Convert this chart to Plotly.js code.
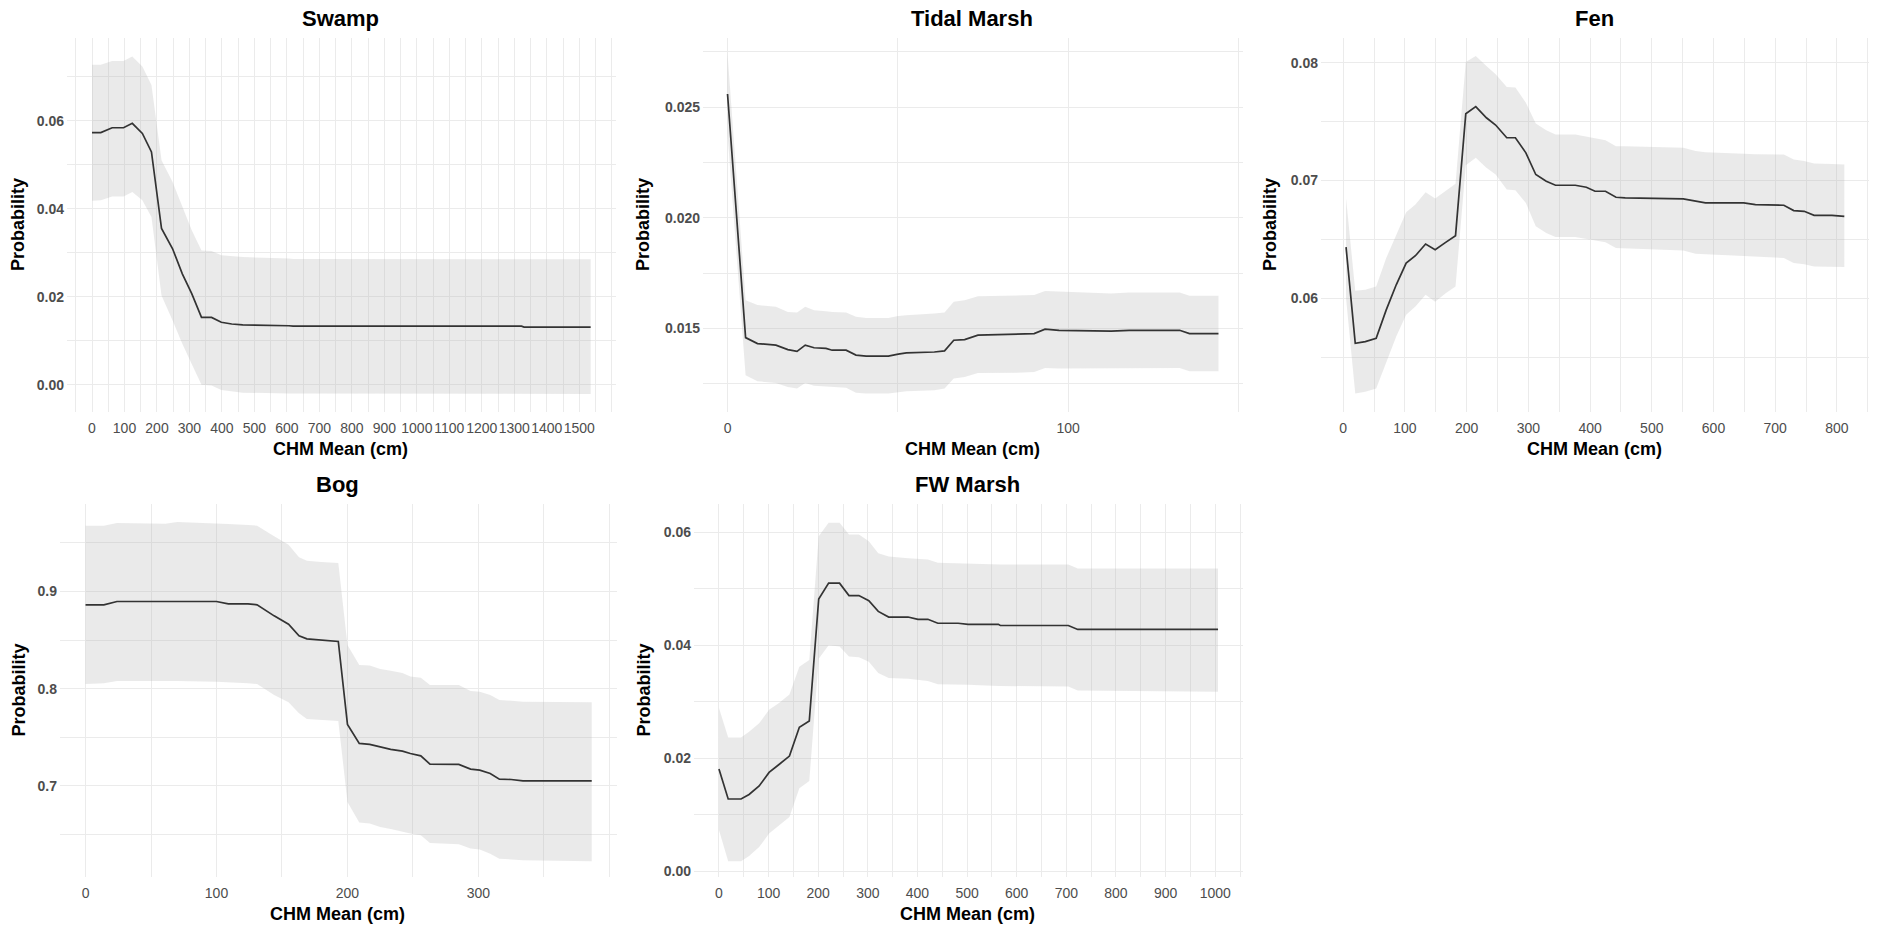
<!DOCTYPE html>
<html>
<head>
<meta charset="utf-8">
<script src="https://cdn.plot.ly/plotly-3.0.1.min.js"></script>
<style>html,body{margin:0;padding:0;background:#fff;}#chart{width:1880px;height:933px;}</style>
</head>
<body>
<div id="chart"></div>
<script>
// ---------------- DATA ----------------
const panelTitles = ["Swamp", "Tidal Marsh", "Fen", "Bog", "FW Marsh"];
const xTitle = "CHM Mean (cm)";
const yTitle = "Probability";

// Swamp
const swampX  = [0, 27, 62, 97, 124, 155, 183, 214, 248, 278, 307, 337, 368, 398, 430, 464, 606, 619, 1322, 1330, 1535];
const swampY  = [0.0573, 0.0573, 0.0584, 0.0584, 0.0594, 0.0571, 0.0529, 0.0355, 0.0309, 0.0252, 0.0207, 0.0153, 0.0153, 0.0142, 0.0138, 0.0136, 0.0134, 0.0133, 0.0133, 0.0131, 0.0131];
const swampHi = [0.0727, 0.0727, 0.0736, 0.0736, 0.0746, 0.0723, 0.0681, 0.0510, 0.0461, 0.0404, 0.0351, 0.0305, 0.0304, 0.0294, 0.0292, 0.0290, 0.0287, 0.0286, 0.0285, 0.0285, 0.0285];
const swampLo = [0.0418, 0.0419, 0.0428, 0.0428, 0.0438, 0.0419, 0.0381, 0.0203, 0.0146, 0.0093, 0.0047, 0.0000, -0.0002, -0.0012, -0.0015, -0.0018, -0.0020, -0.0021, -0.0021, -0.0021, -0.0021];

// Tidal Marsh
const tidalX  = [0, 5.3, 8.8, 14.2, 17.7, 20.4, 22.8, 25.4, 28.9, 30.7, 34.8, 37.7, 40.7, 47.2, 50.1, 52.5, 60.7, 63.7, 66.4, 69.6, 73.5, 86.7, 90.0, 93.2, 97.3, 112.6, 117.9, 132.7, 135.6, 144.1];
const tidalY  = [0.02559, 0.01459, 0.01432, 0.01425, 0.01405, 0.01397, 0.01425, 0.01413, 0.01410, 0.01402, 0.01402, 0.01380, 0.01375, 0.01375, 0.01384, 0.01390, 0.01394, 0.01399, 0.01447, 0.01450, 0.01470, 0.01473, 0.01477, 0.01497, 0.01492, 0.01488, 0.01492, 0.01492, 0.01477, 0.01477];
const tidalHi = [0.02740, 0.01628, 0.01606, 0.01598, 0.01575, 0.01572, 0.01598, 0.01583, 0.01578, 0.01575, 0.01572, 0.01553, 0.01548, 0.01548, 0.01556, 0.01560, 0.01568, 0.01572, 0.01621, 0.01628, 0.01646, 0.01648, 0.01651, 0.01669, 0.01666, 0.01658, 0.01663, 0.01663, 0.01648, 0.01648];
const tidalLo = [0.02380, 0.01289, 0.01262, 0.01254, 0.01236, 0.01229, 0.01254, 0.01241, 0.01238, 0.01236, 0.01232, 0.01210, 0.01206, 0.01206, 0.01213, 0.01217, 0.01221, 0.01229, 0.01274, 0.01281, 0.01299, 0.01301, 0.01304, 0.01322, 0.01320, 0.01319, 0.01321, 0.01322, 0.01307, 0.01307];

// Fen
const fenX  = [4.6, 19.5, 35.8, 53.4, 69.7, 85.9, 102, 117, 133.5, 149, 166, 182, 198.6, 214.8, 232, 247, 265, 279, 296, 312, 329, 344, 376, 394, 408, 425, 442, 457, 551, 571, 587, 649, 668, 714, 730, 747, 763, 792, 812];
const fenY  = [0.06435, 0.05618, 0.05633, 0.05661, 0.05902, 0.06115, 0.06299, 0.06362, 0.06461, 0.06413, 0.06475, 0.06532, 0.07567, 0.07627, 0.07533, 0.07471, 0.07363, 0.07363, 0.07235, 0.07051, 0.06994, 0.06960, 0.06960, 0.06943, 0.06909, 0.06909, 0.06858, 0.06852, 0.06844, 0.06824, 0.06810, 0.06810, 0.06796, 0.06790, 0.06745, 0.06739, 0.06705, 0.06705, 0.06696];
const fenHi = [0.06850, 0.06064, 0.06072, 0.06101, 0.06342, 0.06540, 0.06730, 0.06796, 0.06901, 0.06847, 0.06909, 0.06972, 0.08006, 0.08057, 0.07972, 0.07902, 0.07794, 0.07789, 0.07661, 0.07485, 0.07426, 0.07391, 0.07391, 0.07377, 0.07360, 0.07343, 0.07292, 0.07290, 0.07278, 0.07250, 0.07240, 0.07228, 0.07224, 0.07221, 0.07179, 0.07165, 0.07145, 0.07140, 0.07136];
const fenLo = [0.06000, 0.05193, 0.05207, 0.05235, 0.05462, 0.05675, 0.05860, 0.05930, 0.06030, 0.05972, 0.06044, 0.06101, 0.07130, 0.07193, 0.07108, 0.07051, 0.06923, 0.06918, 0.06810, 0.06611, 0.06555, 0.06521, 0.06521, 0.06504, 0.06490, 0.06475, 0.06427, 0.06420, 0.06407, 0.06379, 0.06370, 0.06358, 0.06354, 0.06342, 0.06299, 0.06290, 0.06271, 0.06268, 0.06265];

// Bog
const bogX  = [0, 14, 24, 38, 61, 70, 100, 109, 124, 131, 144, 155, 163, 169, 180, 193, 200, 209, 217, 225, 233, 242, 248, 256, 263, 285, 294, 301, 309, 316, 325, 334, 386.5];
const bogY  = [0.8863, 0.8863, 0.8897, 0.8897, 0.8890, 0.8897, 0.8897, 0.8873, 0.8873, 0.8863, 0.8749, 0.8663, 0.8543, 0.8512, 0.8502, 0.8485, 0.7632, 0.7436, 0.7426, 0.7402, 0.7375, 0.7357, 0.7333, 0.7309, 0.7223, 0.7220, 0.7172, 0.7161, 0.7127, 0.7069, 0.7065, 0.7052, 0.7052];
const bogHi = [0.9677, 0.9677, 0.9704, 0.9704, 0.9698, 0.9715, 0.9704, 0.9695, 0.9685, 0.9677, 0.9567, 0.9481, 0.9351, 0.9316, 0.9302, 0.9292, 0.8450, 0.8244, 0.8237, 0.8203, 0.8185, 0.8160, 0.8124, 0.8113, 0.8038, 0.8038, 0.7976, 0.7969, 0.7935, 0.7883, 0.7875, 0.7866, 0.7859];
const bogLo = [0.8048, 0.8055, 0.8079, 0.8079, 0.8079, 0.8079, 0.8072, 0.8065, 0.8055, 0.8048, 0.7935, 0.7859, 0.7746, 0.7687, 0.7677, 0.7667, 0.6835, 0.6622, 0.6612, 0.6577, 0.6555, 0.6530, 0.6509, 0.6491, 0.6412, 0.6399, 0.6354, 0.6344, 0.6302, 0.6251, 0.6243, 0.6234, 0.6223];

// FW Marsh
const fwX  = [0, 18.6, 44.5, 60.7, 81, 101, 121, 142, 162, 182, 201, 221, 243, 262, 282, 302, 321, 342, 381, 401, 421, 441, 482, 502, 563, 567, 704, 723, 1005.7];
const fwY  = [0.0181, 0.0128, 0.0128, 0.0136, 0.0151, 0.0175, 0.0189, 0.0204, 0.0255, 0.0266, 0.0482, 0.0510, 0.0510, 0.0488, 0.0488, 0.0479, 0.0460, 0.0450, 0.0450, 0.0446, 0.0446, 0.0439, 0.0439, 0.0437, 0.0437, 0.0435, 0.0435, 0.0428, 0.0428];
const fwHi = [0.0289, 0.0237, 0.0237, 0.0247, 0.0262, 0.0286, 0.0298, 0.0313, 0.0362, 0.0374, 0.0593, 0.0617, 0.0617, 0.0596, 0.0596, 0.0584, 0.0563, 0.0557, 0.0554, 0.0553, 0.0552, 0.0546, 0.0545, 0.0545, 0.0543, 0.0543, 0.0543, 0.0536, 0.0536];
const fwLo = [0.0073, 0.0018, 0.0018, 0.0027, 0.0043, 0.0067, 0.0082, 0.0096, 0.0147, 0.0160, 0.0376, 0.0400, 0.0398, 0.0380, 0.0379, 0.0371, 0.0351, 0.0342, 0.0341, 0.0339, 0.0337, 0.0331, 0.0330, 0.0330, 0.0328, 0.0328, 0.0327, 0.0320, 0.0318];

// Tick values (labelled majors) and minor grid positions
const swampXTicks = [0, 100, 200, 300, 400, 500, 600, 700, 800, 900, 1000, 1100, 1200, 1300, 1400, 1500];
const swampXMinor = [-50, 50, 150, 250, 350, 450, 550, 650, 750, 850, 950, 1050, 1150, 1250, 1350, 1450, 1550, 1600];
const swampYTicks = [0, 0.02, 0.04, 0.06];
const swampYMinor = [0.01, 0.03, 0.05, 0.07];
const tidalXTicks = [0, 100];
const tidalXMinor = [50, 150];
const tidalYTicks = [0.015, 0.020, 0.025];
const tidalYMinor = [0.0125, 0.0175, 0.0225, 0.0275];
const fenXTicks = [0, 100, 200, 300, 400, 500, 600, 700, 800];
const fenXMinor = [50, 150, 250, 350, 450, 550, 650, 750, 850];
const fenYTicks = [0.06, 0.07, 0.08];
const fenYMinor = [0.055, 0.065, 0.075];
const bogXTicks = [0, 100, 200, 300];
const bogXMinor = [50, 150, 250, 350, 400];
const bogYTicks = [0.7, 0.8, 0.9];
const bogYMinor = [0.65, 0.75, 0.85, 0.95];
const fwXTicks = [0, 100, 200, 300, 400, 500, 600, 700, 800, 900, 1000];
const fwXMinor = [-50, 50, 150, 250, 350, 450, 550, 650, 750, 850, 950, 1050];
const fwYTicks = [0, 0.02, 0.04, 0.06];
const fwYMinor = [0.01, 0.03, 0.05];

// ---------------- PANEL SETUP ----------------
const W = 1880, H = 933;
const panels = [
  {title: panelTitles[0], x: swampX, y: swampY, hi: swampHi, lo: swampLo,
   px: [67, 616], py: [38, 412], xr: [-77, 1613], yr: [-0.0062, 0.0788],
   xt: swampXTicks, xm: swampXMinor, yt: swampYTicks, ym: swampYMinor, yfmt: ".2f", ylx: 18},
  {title: panelTitles[1], x: tidalX, y: tidalY, hi: tidalHi, lo: tidalLo,
   px: [703, 1243], py: [38, 412], xr: [-7.2, 151.3], yr: [0.01123, 0.02812],
   xt: tidalXTicks, xm: tidalXMinor, yt: tidalYTicks, ym: tidalYMinor, yfmt: ".3f", ylx: 643},
  {title: panelTitles[2], x: fenX, y: fenY, hi: fenHi, lo: fenLo,
   px: [1321, 1869], py: [38, 412], xr: [-36, 852], yr: [0.05035, 0.0821],
   xt: fenXTicks, xm: fenXMinor, yt: fenYTicks, ym: fenYMinor, yfmt: ".2f", ylx: 1270},
  {title: panelTitles[3], x: bogX, y: bogY, hi: bogHi, lo: bogLo,
   px: [60, 617], py: [504, 877], xr: [-19.5, 405.8], yr: [0.6062, 0.990],
   xt: bogXTicks, xm: bogXMinor, yt: bogYTicks, ym: bogYMinor, yfmt: ".1f", ylx: 18},
  {title: panelTitles[4], x: fwX, y: fwY, hi: fwHi, lo: fwLo,
   px: [694, 1243], py: [504, 877], xr: [-50.3, 1056], yr: [-0.001, 0.0650],
   xt: fwXTicks, xm: fwXMinor, yt: fwYTicks, ym: fwYMinor, yfmt: ".2f", ylx: 643}
];

const FONT = "Liberation Sans, Arial, sans-serif";
const GRID = "#ebebeb";
const traces = [];
const layout = {
  width: W, height: H,
  margin: {l: 0, r: 0, t: 0, b: 0},
  paper_bgcolor: "#ffffff", plot_bgcolor: "#ffffff",
  showlegend: false,
  annotations: []
};

function fx(p) { return p / W; }
function fy(p) { return 1 - p / H; }

panels.forEach((p, i) => {
  const n = i === 0 ? "" : String(i + 1);
  const xa = "x" + n, ya = "y" + n;
  traces.push({
    type: "scatter", mode: "lines",
    x: p.x.concat(p.x.slice().reverse()),
    y: p.hi.concat(p.lo.slice().reverse()),
    fill: "toself", fillcolor: "rgba(179,179,179,0.27)",
    line: {width: 0, color: "rgba(0,0,0,0)"},
    hoverinfo: "skip", xaxis: xa, yaxis: ya
  });
  traces.push({
    type: "scatter", mode: "lines",
    x: p.x, y: p.y,
    line: {color: "#333333", width: 1.7},
    xaxis: xa, yaxis: ya
  });
  layout["xaxis" + n] = {
    domain: [fx(p.px[0]), fx(p.px[1])], anchor: ya,
    range: p.xr, tickmode: "array", tickvals: p.xt, tickangle: 0,
    showgrid: true, gridcolor: GRID, gridwidth: 1, zeroline: false,
    showline: false, ticks: "", ticklabelstandoff: 6,
    tickfont: {family: FONT, size: 14, color: "#4d4d4d"},
    minor: {tickmode: "array", tickvals: p.xm, showgrid: true, gridcolor: GRID, gridwidth: 1, ticks: ""},
    fixedrange: true
  };
  layout["yaxis" + n] = {
    domain: [fy(p.py[1]), fy(p.py[0])], anchor: xa,
    range: p.yr, tickmode: "array", tickvals: p.yt, tickformat: p.yfmt,
    showgrid: true, gridcolor: GRID, gridwidth: 1, zeroline: false,
    showline: false, ticks: "", ticklabelstandoff: 2,
    tickfont: {family: FONT, size: 14, color: "#4d4d4d", weight: "bold"},
    minor: {tickmode: "array", tickvals: p.ym, showgrid: true, gridcolor: GRID, gridwidth: 1, ticks: ""},
    fixedrange: true
  };
  const cx = (p.px[0] + p.px[1]) / 2 - 1;
  layout.annotations.push({
    xref: "paper", yref: "paper", x: fx(cx), y: fy(p.py[0] - 19),
    text: "<b>" + p.title + "</b>", showarrow: false,
    font: {family: FONT, size: 22, color: "#000000"}, xanchor: "center", yanchor: "middle"
  });
  layout.annotations.push({
    xref: "paper", yref: "paper", x: fx(cx), y: fy(p.py[1] + 37),
    text: "<b>" + xTitle + "</b>", showarrow: false,
    font: {family: FONT, size: 18, color: "#000000"}, xanchor: "center", yanchor: "middle"
  });
  layout.annotations.push({
    xref: "paper", yref: "paper", x: fx(p.ylx), y: fy((p.py[0] + p.py[1]) / 2),
    text: "<b>" + yTitle + "</b>", showarrow: false, textangle: -90,
    font: {family: FONT, size: 18, color: "#000000"}, xanchor: "center", yanchor: "middle"
  });
});

Plotly.newPlot("chart", traces, layout, {displayModeBar: false, staticPlot: true});
</script>
</body>
</html>
